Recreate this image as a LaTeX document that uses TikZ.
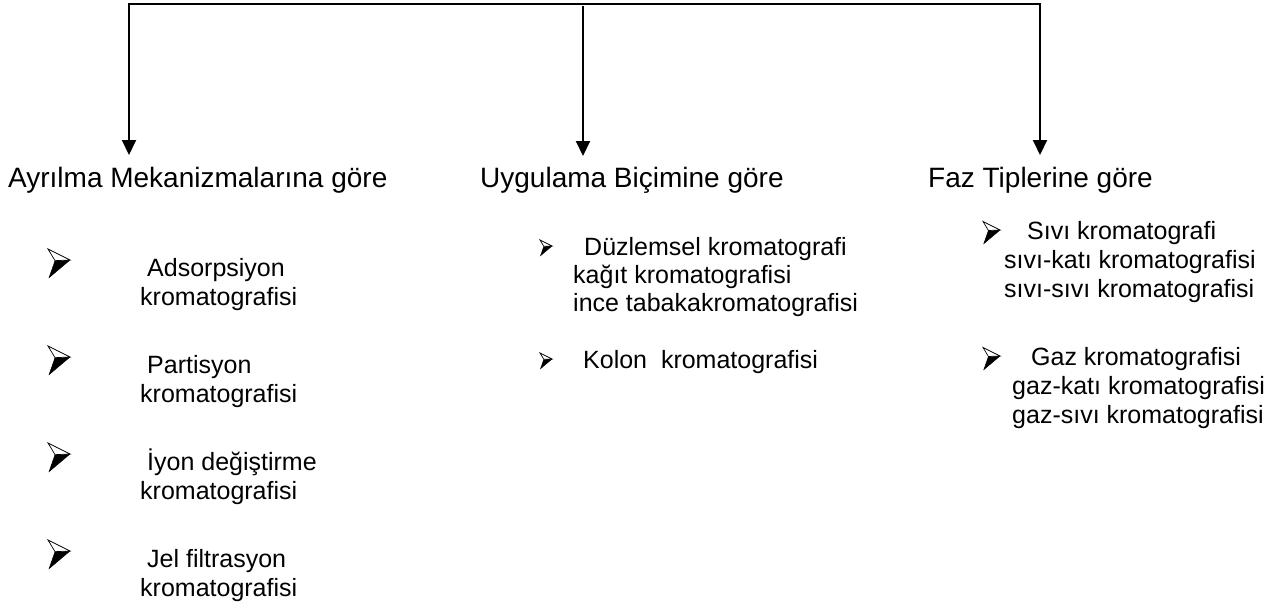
\documentclass[tikz,border=0pt]{standalone}
\usepackage{fontspec}
\setmainfont{Liberation Sans}
\usetikzlibrary{arrows.meta}
\begin{document}
\begin{tikzpicture}[x=1pt,y=-1pt,
  head/.style={anchor=base west, inner sep=0pt, font=\fontsize{28}{32}\selectfont},
  item/.style={anchor=base west, inner sep=0pt, font=\fontsize{25}{29}\selectfont},
  link/.style={line width=2pt, line join=miter},
  headtip/.style={-{Triangle[length=15pt,width=14pt]}},
  bothtips/.style={{Triangle[length=15pt,width=14pt]}-{Triangle[length=15pt,width=14pt]}},
  arrowbullet/.pic={
    \fill[black] (0,0) -- (-0.68,0.03) -- (-0.95,0.8) -- cycle;
    \draw[line width=0.7pt, line join=miter, fill=white]
      (0,0) -- (-1,-0.5) -- (-0.68,0.03) -- cycle;
    \draw[line width=0.5pt] (-0.68,0.03) -- (-0.95,0.8) -- (0,0);
  }]
\useasboundingbox (0,0) rectangle (1287,608);

% headings
\node[head] (mech) at (8,187) {Ayrılma Mekanizmalarına göre};
\node[head] (appl) at (480,187) {Uygulama Biçimine göre};
\node[head] (phase) at (928,187) {Faz Tiplerine göre};

% branching connector
\coordinate (c1) at (129,4);
\coordinate (c3) at (1040,4);
\coordinate (e1) at (129,155);
\coordinate (e3) at (1040,155);
\coordinate (m0) at (583,6);
\coordinate (e2) at (583,156);
\draw[link, bothtips] (e1) -- (c1) -- (c3) -- (e3);
\draw[link, headtip] (m0) -- (e2);

% separation mechanisms
\pic[scale=22] at (70,260) {arrowbullet};
\node[item] (ads1) at (147,276) {Adsorpsiyon};
\node[item] (ads2) at (140,305) {kromatografisi};
\pic[scale=22] at (70,357) {arrowbullet};
\node[item] (par1) at (147,373) {Partisyon};
\node[item] (par2) at (140,402) {kromatografisi};
\pic[scale=22] at (70,454) {arrowbullet};
\node[item] (ion1) at (147,470) {İyon değiştirme};
\node[item] (ion2) at (140,499) {kromatografisi};
\pic[scale=22] at (70,551) {arrowbullet};
\node[item] (gel1) at (147,567) {Jel filtrasyon};
\node[item] (gel2) at (140,596) {kromatografisi};

% application form
\pic[scale=12] at (552,246) {arrowbullet};
\node[item] (pla1) at (584,255) {Düzlemsel kromatografi};
\node[item] (pla2) at (573,283) {kağıt kromatografisi};
\node[item] (pla3) at (573,311) {ince tabakakromatografisi};
\pic[scale=12] at (552,359) {arrowbullet};
\node[item] (col1) at (583,368) {Kolon\ \ kromatografisi};

% phase types
\pic[scale=17] at (1000,230) {arrowbullet};
\node[item] (liq1) at (1027,239) {Sıvı kromatografi};
\node[item] (liq2) at (1004,268) {sıvı-katı kromatografisi};
\node[item] (liq3) at (1004,297) {sıvı-sıvı kromatografisi};
\pic[scale=17] at (1000,356) {arrowbullet};
\node[item] (gas1) at (1031,365) {Gaz kromatografisi};
\node[item] (gas2) at (1012,394) {gaz-katı kromatografisi};
\node[item] (gas3) at (1012,423) {gaz-sıvı kromatografisi};
\end{tikzpicture}
\end{document}
